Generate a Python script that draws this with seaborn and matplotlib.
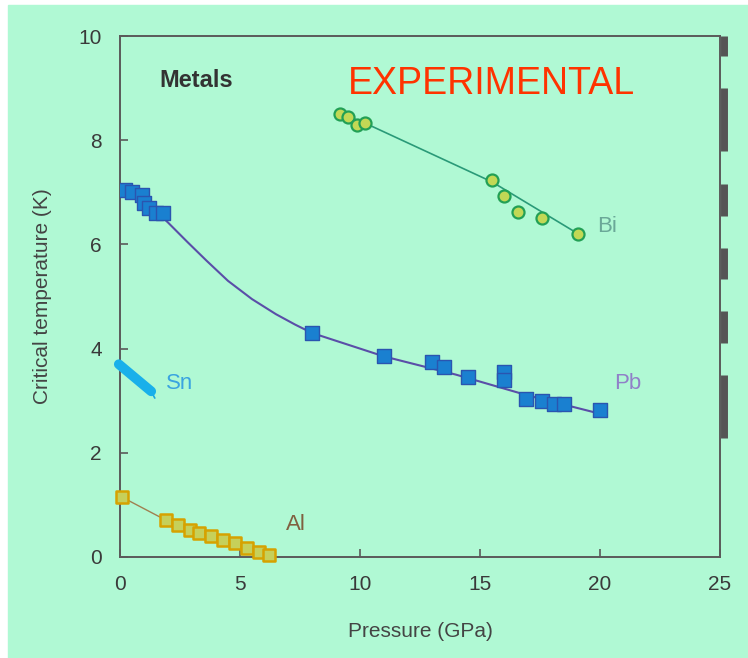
import matplotlib
matplotlib.use("Agg")
import matplotlib.pyplot as plt
import seaborn as sns
import pandas as pd
from matplotlib.patches import Rectangle
from matplotlib.lines import Line2D

# ---- data ----
pb_p = [0.2, 0.5, 0.9, 1.0, 1.2, 1.5, 1.8, 8.0, 11.0, 13.0, 13.5, 14.5, 16.0, 16.0, 16.9, 17.6, 18.1, 18.5, 20.0]
pb_t = [7.05, 7.0, 6.95, 6.8, 6.7, 6.6, 6.6, 4.3, 3.85, 3.75, 3.65, 3.45, 3.55, 3.4, 3.03, 3.0, 2.93, 2.93, 2.82]
pb_fit_p = [0.1, 1.0, 2.0, 2.8, 3.6, 4.5, 5.5, 6.5, 7.3, 8.0, 11.0, 14.0, 17.0, 20.0]
pb_fit_t = [7.1, 6.85, 6.42, 6.05, 5.69, 5.3, 4.95, 4.66, 4.46, 4.3, 3.85, 3.5, 3.1, 2.75]

bi_p = [9.17, 9.5, 9.87, 10.2, 15.5, 16.0, 16.6, 17.6, 19.1]
bi_t = [8.5, 8.45, 8.29, 8.33, 7.24, 6.93, 6.63, 6.51, 6.2]
bi_fit_p = [9.2, 10.2, 15.5, 19.1]
bi_fit_t = [8.5, 8.33, 7.2, 6.2]

sn_p = [-0.05, 1.3]
sn_t = [3.7, 3.18]
sn_tail_p = [1.3, 1.45]
sn_tail_t = [3.18, 3.05]

al_p = [0.08, 1.9, 2.4, 2.9, 3.3, 3.8, 4.3, 4.8, 5.3, 5.8, 6.2]
al_t = [1.15, 0.71, 0.62, 0.52, 0.46, 0.4, 0.33, 0.27, 0.18, 0.1, 0.04]
al_fit_p = [0.08, 1.9, 6.2]
al_fit_t = [1.15, 0.71, 0.04]

x_ticks = [0, 5, 10, 15, 20, 25]
y_ticks = [0, 2, 4, 6, 8, 10]
right_bar_spans = [(9.62, 10.0), (7.8, 9.0), (6.55, 7.16), (5.34, 5.94), (4.1, 4.73), (2.28, 3.49)]

GREEN = "#b0f9d4"
SPINE = "#5a5a5a"

sns.set_theme(style="white")
plt.rcParams["font.family"] = ["Liberation Sans", "DejaVu Sans"]

fig = plt.figure(figsize=(7.48, 6.58), dpi=100, facecolor="white")
fig.patches.append(Rectangle((8 / 748, 0), 1 - 8 / 748, 1 - 5 / 658,
                             transform=fig.transFigure, color=GREEN, zorder=-10))
ax = fig.add_axes([120 / 748, 101 / 658, 600 / 748, 521 / 658])
ax.set_facecolor(GREEN)

# Pb
sns.lineplot(x=pb_fit_p, y=pb_fit_t, ax=ax, color="#5a4ea8", linewidth=1.5, sort=False)
sns.scatterplot(x=pb_p, y=pb_t, ax=ax, marker="s", s=110, color="#1a80d0",
                edgecolor="#2a55b0", linewidth=1.0, zorder=4)
# Bi
sns.lineplot(x=bi_fit_p, y=bi_fit_t, ax=ax, color="#2a9a78", linewidth=1.2, sort=False)
sns.scatterplot(x=bi_p, y=bi_t, ax=ax, marker="o", s=75, color="#c2d855",
                edgecolor="#22a055", linewidth=1.6, zorder=4)
# Sn
sns.lineplot(x=sn_tail_p, y=sn_tail_t, ax=ax, color="#19a8e0", linewidth=1.2, sort=False)
ax.plot(sn_p, sn_t, color="#19b0ea", linewidth=7, solid_capstyle="round", zorder=3, clip_on=False)
# Al
sns.lineplot(x=al_fit_p, y=al_fit_t, ax=ax, color="#a08050", linewidth=1.0, sort=False)
sns.scatterplot(x=al_p, y=al_t, ax=ax, marker="s", s=85, color="#c6d05a",
                edgecolor="#d6a200", linewidth=1.8, zorder=4, clip_on=False)

ax.set_xlim(0, 25)
ax.set_ylim(0, 10)
ax.set_xticks(x_ticks)
ax.set_yticks(y_ticks)
ax.set_xticklabels([str(v) for v in x_ticks], color="#3a3a3a", fontsize=15)
ax.set_yticklabels([str(v) for v in y_ticks], color="#3a3a3a", fontsize=15)
ax.tick_params(axis="both", direction="in", length=6, width=1.2, color=SPINE, pad=13)
ax.tick_params(axis="x", bottom=True)
ax.tick_params(axis="y", left=True)
ax.set_xlabel("Pressure (GPa)", fontsize=15, color="#444444", labelpad=20)
ax.set_ylabel("Critical temperature (K)", fontsize=15, color="#444444", labelpad=19)

for s in ax.spines.values():
    s.set_visible(True)
    s.set_color(SPINE)
    s.set_linewidth(1.4)

# thick broken bar outside the right spine
for lo, hi in right_bar_spans:
    ax.add_line(Line2D([1.006, 1.006], [lo, hi], transform=ax.get_yaxis_transform(),
                       color="#555555", linewidth=5, clip_on=False, solid_capstyle="butt"))

# annotations
ax.text(1.65, 9.15, "Metals", fontsize=17, fontweight="bold", color="#333333", va="center")
ax.text(9.5, 9.08, "EXPERIMENTAL", fontsize=27, color="#ff3300", va="center")
ax.text(19.9, 6.35, "Bi", fontsize=16, color="#6aa898", va="center")
ax.text(20.6, 3.33, "Pb", fontsize=16, color="#9080c8", va="center")
ax.text(1.9, 3.33, "Sn", fontsize=16, color="#3aa4e0", va="center")
ax.text(6.9, 0.63, "Al", fontsize=16, color="#806040", va="center")

fig.savefig("out.png", dpi=100, facecolor=fig.get_facecolor())
